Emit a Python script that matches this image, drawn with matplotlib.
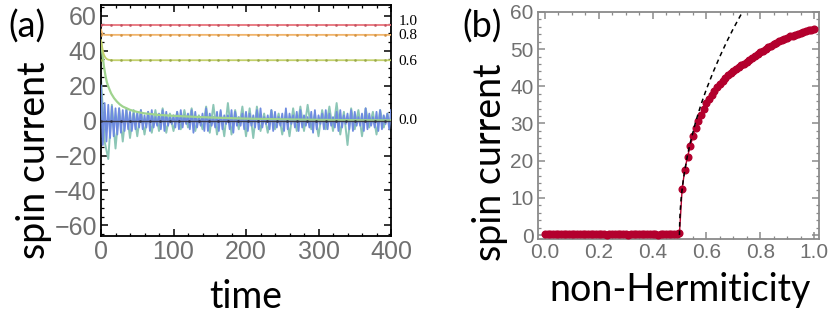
import numpy as np
import matplotlib
matplotlib.use("Agg")
import matplotlib.pyplot as plt
from matplotlib.ticker import MultipleLocator

# ---- panel (a): spin current vs time ----
t_red = [0, 400]
y_red = [54.5, 54.5]
t_orange = [0, 1, 2, 3, 5, 400]
y_orange = [52.0, 50.6, 49.6, 49.2, 49.0, 49.0]
t_yellow = [0, 1, 2, 3, 4, 6, 8, 10, 13, 16, 20, 400]
y_yellow = [46.0, 43.5, 41.0, 39.0, 37.6, 36.0, 35.2, 34.8, 34.6, 34.5, 34.5, 34.5]
t_green = [0, 2, 4, 6, 8, 10, 14, 18, 22, 26, 30, 40, 50, 60, 80, 100, 130, 160, 200, 250, 300, 350, 400]
y_green = [45, 38, 31, 26, 22, 19.5, 15.5, 12.8, 10.8, 9.2, 8.0, 6.1, 4.9, 4.1, 3.2, 2.7,
           2.1, 1.6, 1.1, 0.7, 0.4, 0.2, 0.1]
# extrema of the oscillating curves, every 5 time units (teal) and 2.5 (blue)
y_teal = [24, -12, -22, 9, -16, 7, -12, 7, -10, 6, -9, 6, -8, 5, -7, 6, -6, 7, -7, 4,
          -6, 5, -5, 6, -4, 7, -6, 3, -5, 8, -7, 9, -8, 5, -9, 10, -8, 6, -5, 8,
          -9, 7, -10, 8, -6, 4, -7, 6, -5, 4, -8, 5, -9, 7, -6, 8, -6, 9, -5, 4,
          -9, 6, -5, 8, -6, 10, -8, 5, -14, 7, -5, 6, -9, 7, -4, 5, -8, 6, -4, 4, -6]
y_blue = [20, -14, 10, -12, 9, -10, 8, -9, 7, -8,
          7, -7, 6, -6, 6, -5, 5, -6, 4, -5,
          5, -4, 6, -5, 3, -4, 5, -6, 6, -4,
          2, -3, 4, -5, 6, -6, 5, -3, 2, -2,
          3, -4, 5, -5, 6, -4, 3, -2, 4, -5,
          6, -7, 5, -4, 2, -3, 4, -6, 7, -6,
          4, -3, 2, -4, 5, -6, 6, -5, 3, -2,
          3, -5, 6, -7, 5, -3, 2, -3, 4, -5,
          5, -6, 4, -3, 3, -4, 6, -5, 7, -4,
          2, -2, 3, -5, 6, -6, 5, -4, 2, -3,
          4, -6, 7, -5, 4, -2, 3, -4, 5, -6,
          6, -4, 3, -3, 2, -4, 5, -7, 6, -5,
          3, -2, 4, -5, 6, -5, 4, -3, 2, -4,
          5, -6, 6, -4, 3, -2, 4, -5, 6, -6,
          5, -3, 2, -3, 4, -6, 7, -5, 4, -3,
          2, -4, 5, -6, 6, -5, 3, -2, 4, -5,
          6]
t_black = [0, 400]
y_black = [0, 0]
level_labels = ["1.0", "0.8", "0.6", "0.0"]
level_values = [56.6, 48.6, 34.0, 0.3]

# ---- panel (b): spin current vs non-Hermiticity ----
x_b = [round(0.01 * i, 2) for i in range(101)]
y_b = [0.3, 0.2, 0.3, 0.3, 0.2, 0.3, 0.3, 0.2, 0.3, 0.2,
       0.3, 0.2, 0.3, 0.3, 0.2, 0.2, 0.3, 0.3, 0.2, 0.3,
       0.3, 0.2, 0.3, 0.1, 0.3, 0.3, 0.2, 0.3, 0.2, 0.3,
       0.3, 0.1, 0.3, 0.2, 0.3, 0.2, 0.3, 0.3, 0.2, 0.3,
       0.2, 0.3, 0.1, 0.2, 0.3, 0.3, 0.2, 0.3, 0.3, 0.3,
       0.5,
       12.5, 17.6, 21.1, 23.9, 26.5, 28.7, 30.6, 32.4, 34.0, 35.4,
       36.6, 37.7, 38.7, 39.7, 40.6, 41.4, 42.2, 42.9, 43.5, 44.1,
       44.6, 45.1, 45.6, 46.0, 46.5, 47.0, 47.5, 48.1, 48.6, 49.1,
       49.6, 50.1, 50.5, 50.9, 51.3, 51.7, 52.1, 52.4, 52.8, 53.1,
       53.4, 53.6, 53.9, 54.1, 54.3, 54.5, 54.8, 55.0, 55.2, 55.4]
x_fit = [0.5, 0.501, 0.503, 0.506, 0.51, 0.515, 0.52, 0.53, 0.54, 0.56, 0.58,
         0.6, 0.625, 0.65, 0.675, 0.7, 0.734]
y_fit = [0, 3.9, 6.8, 9.6, 12.4, 15.2, 17.5, 21.5, 24.8, 30.4, 35.1,
         39.2, 43.8, 48.0, 51.9, 55.5, 60.0]

label_font = "Lato"
tick_font = "Liberation Sans"
gray = "#707070"

fig = plt.figure(figsize=(8.3, 3.21), dpi=100)
ax1 = fig.add_axes([0.1217, 0.265, 0.3494, 0.719])
ax2 = fig.add_axes([0.648, 0.255, 0.339, 0.708])

# panel (a)
t_teal = np.linspace(0, 400, len(y_teal))
t_blue = np.linspace(0, 400, len(y_blue))
ax1.plot(t_teal, y_teal, color="#8cc6b6", lw=1.4, zorder=2)
ax1.plot(t_blue, y_blue, color="#6e8be0", lw=1.3, zorder=3)
ax1.plot(t_green, y_green, color="#9fd38e", lw=1.6, zorder=4)
ax1.plot(t_yellow, y_yellow, color="#c3d06c", lw=1.3, zorder=4)
ax1.plot(t_orange, y_orange, color="#f1b56c", lw=1.3, zorder=4)
ax1.plot(t_red, y_red, color="#e8737c", lw=1.3, zorder=4)
ax1.plot(t_black, y_black, color="#3a3a48", lw=1.0, zorder=5)
t_marks = np.arange(0, 401, 13.5)
for lev, col in [(y_red[-1], "#c05060"), (y_orange[-1], "#d09040"),
                 (y_yellow[-1], "#98a848"), (y_black[-1], "#303040")]:
    ax1.plot(t_marks, [lev] * len(t_marks), "o", ms=1.0, color=col, alpha=0.8, zorder=6)

ax1.set_xlim(0, 400)
ax1.set_ylim(-66, 66)
ax1.xaxis.set_major_locator(MultipleLocator(100))
ax1.xaxis.set_minor_locator(MultipleLocator(20))
ax1.yaxis.set_major_locator(MultipleLocator(20))
ax1.yaxis.set_minor_locator(MultipleLocator(5))
ax1.tick_params(which="both", direction="in", top=True, right=True, color="black",
                labelcolor=gray, labelsize=18, pad=3)
ax1.tick_params(which="major", length=5, width=1.1)
ax1.tick_params(which="minor", length=2.5, width=0.9)
for sp in ax1.spines.values():
    sp.set_linewidth(1.3)
    sp.set_color("black")
ax1.set_xticks([0, 100, 200, 300, 400])
ax1.set_xticklabels(["0", "100", "200", "300", "400"], fontfamily=tick_font)
ax1.set_yticks([-60, -40, -20, 0, 20, 40, 60])
ax1.set_yticklabels(["\u221260", "\u221240", "\u221220", "0", "20", "40", "60"],
                    fontfamily=tick_font)
ax1.set_xlabel("time", fontsize=27, fontfamily=label_font)
ax1.set_ylabel("spin current", fontsize=27, fontfamily=label_font)
ax1.xaxis.label.set_va("center")
ax1.yaxis.label.set_va("center")
ax1.xaxis.set_label_coords(0.5, -0.265)
ax1.yaxis.set_label_coords(-0.231, 0.33)
for txt, v in zip(level_labels, level_values):
    ax1.text(410, v, txt, fontsize=11, fontfamily="Liberation Serif",
             va="center", ha="left", clip_on=False)
fig.text(0.032, 0.916, "(a)", fontsize=26, fontfamily=label_font, va="center", ha="center")

# panel (b)
ax2.plot(x_b, y_b, "-o", color="#b3002d", ms=4.8, lw=1.0, zorder=3)
ax2.plot(x_fit, y_fit, "--", color="black", lw=1.1, dashes=(3, 2.5), zorder=4)
ax2.set_xlim(-0.026, 1.019)
ax2.set_ylim(-1.1, 60)
ax2.xaxis.set_major_locator(MultipleLocator(0.2))
ax2.xaxis.set_minor_locator(MultipleLocator(0.05))
ax2.yaxis.set_major_locator(MultipleLocator(10))
ax2.yaxis.set_minor_locator(MultipleLocator(2))
ax2.tick_params(which="both", direction="in", top=True, right=True, color="#8a8a8a",
                labelcolor=gray, labelsize=15, pad=3)
ax2.tick_params(which="major", length=5, width=1.1)
ax2.tick_params(which="minor", length=2.5, width=0.9)
for sp in ax2.spines.values():
    sp.set_linewidth(1.3)
    sp.set_color("#8a8a8a")
ax2.set_xticks([0.0, 0.2, 0.4, 0.6, 0.8, 1.0])
ax2.set_xticklabels(["0.0", "0.2", "0.4", "0.6", "0.8", "1.0"], fontfamily=tick_font)
ax2.set_yticks([0, 10, 20, 30, 40, 50, 60])
ax2.set_yticklabels(["0", "10", "20", "30", "40", "50", "60"], fontfamily=tick_font)
ax2.set_xlabel("non-Hermiticity", fontsize=27, fontfamily=label_font)
ax2.set_ylabel("spin current", fontsize=27, fontfamily=label_font)
ax2.xaxis.label.set_va("center")
ax2.yaxis.label.set_va("center")
ax2.xaxis.set_label_coords(0.505, -0.225)
ax2.yaxis.set_label_coords(-0.171, 0.34)
fig.text(0.581, 0.916, "(b)", fontsize=26, fontfamily=label_font, va="center", ha="center")

fig.savefig("out.png", dpi=100)
